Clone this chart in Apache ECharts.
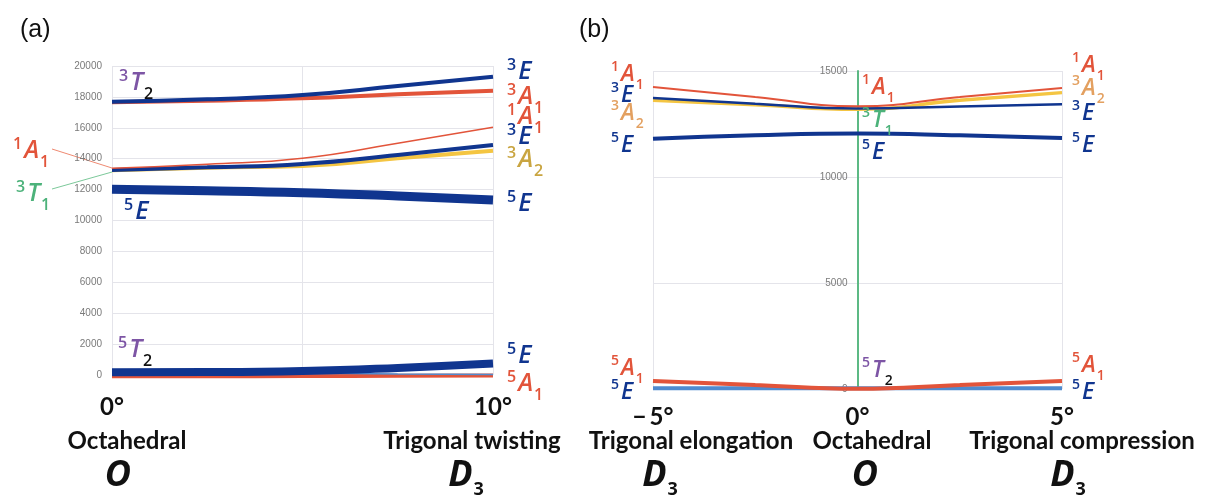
<!DOCTYPE html>
<html>
<head>
<meta charset="utf-8">
<script src="https://cdn.jsdelivr.net/npm/echarts@6/dist/echarts.min.js"></script>
<style>
  html, body { margin: 0; padding: 0; background: #fff; }
  #chart { width: 1206px; height: 500px; }
</style>
</head>
<body>
<div id="chart"></div>
<script>
// (a) trigonal twisting, 0..10 deg
var xA = [0, 2.5, 5, 7.5, 10]
var a3E_hi = [17690, 17840, 18120, 18700, 19300]
var a3A1 = [17650, 17750, 17910, 18170, 18400]
var a1A1 = [13380, 13640, 14030, 15000, 16030]
var a3E_mid = [13270, 13440, 13660, 14240, 14890]
var a3A2 = [13250, 13420, 13530, 14030, 14520]
var a5E_hi = [12020, 11930, 11800, 11590, 11330]
var a5E_lo = [180, 190, 260, 460, 740]
var a5A1 = [-80, -80, -70, -50, -30]
var a5E_thin = [90, 90, 100, 70, 40]

// (b) trigonal elongation / compression, -5..5 deg
var xB = [-5, -2.5, 0, 2.5, 5]
var b1A1 = [14245, 13770, 13335, 13770, 14200]
var b3E = [13730, 13460, 13230, 13330, 13430]
var b3A2 = [13620, 13410, 13200, 13620, 13980]
var b5E_hi = [11810, 11970, 12050, 11970, 11840]
var b5A1 = [380, 190, 10, 190, 380]
var b5E_lo = [40, 40, 40, 40, 40]

var NAVY = '#10358f'
var RED = '#e2543a'
var YELLOW = '#f4c542'
var GOLD = '#c9a541'
var ORANGE = '#e3a060'
var GREEN = '#4cb27a'
var PURPLE = '#7d55a5'
var LIGHTBLUE = '#4f8bcf'
var FONT = 'Open Sans'
var BFONT = 'Lato'

function pts(xs, ys) {
  return xs.map(function(x, i) { return [x, ys[i]] })
}

function line(grid, xs, ys, color, width) {
  return {
    type: 'line',
    xAxisIndex: grid,
    yAxisIndex: grid,
    data: pts(xs, ys),
    smooth: true,
    symbol: 'none',
    silent: true,
    clip: false,
    lineStyle: { color: color, width: width }
  }
}

// term symbol like ^3A_1
function term(x, y, sup, main, sub, col, subCol, size) {
  size = size || 25
  var s = Math.round(size * 0.62)
  var text = '{s|' + sup + '}{m|' + main + '}' + (sub ? '{b|' + sub + '}' : '')
  return {
    type: 'text',
    x: x,
    y: y,
    z: 100,
    style: {
      text: text,
      align: 'left',
      verticalAlign: 'middle',
      rich: {
        s: { fill: col, fontSize: s, fontFamily: FONT, fontWeight: 600, lineHeight: s, verticalAlign: 'top', padding: [0, 2, 0, 0] },
        m: { fill: col, fontSize: size, fontStyle: 'italic', fontWeight: 600, fontFamily: FONT, lineHeight: size * 1.2 },
        b: { fill: subCol || col, fontSize: s, fontFamily: FONT, fontWeight: 600, lineHeight: s, verticalAlign: 'bottom', padding: [0, 0, -4, 1] }
      }
    }
  }
}

function plain(x, y, str, size) {
  return {
    type: 'text',
    x: x,
    y: y,
    z: 100,
    style: {
      text: str,
      align: 'center',
      verticalAlign: 'middle',
      fill: '#111',
      fontSize: size,
      fontFamily: BFONT,
      fontWeight: 'bold'
    }
  }
}

function group(x, y, main, sub) {
  return {
    type: 'text',
    x: x,
    y: y,
    z: 100,
    style: {
      text: '{m|' + main + '}' + (sub ? '{b|' + sub + '}' : ''),
      align: 'center',
      verticalAlign: 'middle',
      rich: {
        m: { fill: '#111', fontSize: 36, fontStyle: 'italic', fontWeight: 'bold', fontFamily: FONT, lineHeight: 40 },
        b: { fill: '#111', fontSize: 18, fontWeight: 'bold', fontFamily: FONT, lineHeight: 18, verticalAlign: 'bottom', padding: [0, 0, -3, 1] }
      }
    }
  }
}

var gridLine = { show: true, lineStyle: { color: '#e4e4ea', width: 1 } }
var degLabel = { fontSize: 24, fontFamily: BFONT, fontWeight: 'bold', color: '#111' }

var chart = echarts.init(document.getElementById('chart'))
chart.setOption({
  backgroundColor: '#fff',
  animation: false,
  grid: [
    { left: 112, top: 66, width: 381, height: 309 },
    { left: 653, top: 71, width: 409, height: 318 }
  ],
  xAxis: [{
    type: 'value',
    gridIndex: 0,
    min: 0,
    max: 10,
    interval: 5,
    axisLine: { show: false },
    axisTick: { show: false },
    splitLine: gridLine,
    axisLabel: Object.assign({
      margin: 20,
      formatter: function(v) { return v === 5 ? '' : v + '°' }
    }, degLabel)
  }, {
    type: 'value',
    gridIndex: 1,
    min: -5,
    max: 5,
    interval: 5,
    axisLine: { show: false },
    axisTick: { show: false },
    splitLine: gridLine,
    axisLabel: Object.assign({
      margin: 16,
      formatter: function(v) { return v < 0 ? '\u2212\u2009' + Math.abs(v) + '°' : v + '°' }
    }, degLabel)
  }],
  yAxis: [{
    type: 'value',
    gridIndex: 0,
    min: 0,
    max: 20000,
    interval: 2000,
    axisLine: { show: false },
    axisTick: { show: false },
    splitLine: gridLine,
    axisLabel: { margin: 10, fontSize: 10, color: '#7a7a7a', fontFamily: 'Liberation Sans', formatter: String }
  }, {
    type: 'value',
    gridIndex: 1,
    min: 0,
    max: 15000,
    interval: 5000,
    offset: -204.5,
    axisLine: { show: true, onZero: false, lineStyle: { color: '#5cb984', width: 2 } },
    axisTick: { show: false },
    splitLine: gridLine,
    axisLabel: { margin: 10, fontSize: 10, color: '#7a7a7a', fontFamily: 'Liberation Sans', formatter: String }
  }],
  series: [
    line(0, xA, a3A1, RED, 4),
    line(0, xA, a3E_hi, NAVY, 4),
    line(0, xA, a3A2, YELLOW, 4),
    line(0, xA, a3E_mid, NAVY, 4),
    line(0, xA, a1A1, RED, 1.5),
    line(0, xA, a5E_hi, NAVY, 9),
    line(0, xA, a5A1, RED, 4),
    line(0, xA, a5E_thin, LIGHTBLUE, 1.5),
    line(0, xA, a5E_lo, NAVY, 8),

    line(1, xB, b5E_lo, LIGHTBLUE, 4),
    line(1, xB, b5A1, RED, 4),
    line(1, xB, b3A2, YELLOW, 3.5),
    line(1, xB, b3E, NAVY, 2.5),
    line(1, xB, b1A1, RED, 2),
    line(1, xB, b5E_hi, NAVY, 4)
  ],
  graphic: [
    { type: 'text', x: 20, y: 30, style: { text: '(a)', fontSize: 25, fontFamily: 'Liberation Sans', fill: '#111', verticalAlign: 'middle' } },
    { type: 'text', x: 579, y: 30, style: { text: '(b)', fontSize: 25, fontFamily: 'Liberation Sans', fill: '#111', verticalAlign: 'middle' } },

    // leader lines for the left-hand labels of (a)
    { type: 'line', shape: { x1: 52, y1: 149, x2: 112, y2: 168 }, style: { stroke: '#ef8a72', lineWidth: 1 } },
    { type: 'line', shape: { x1: 52, y1: 189, x2: 112, y2: 172 }, style: { stroke: '#7cc99a', lineWidth: 1 } },

    // (a) labels
    term(13, 151, '1', 'A', '1', RED),
    term(16, 194, '3', 'T', '1', GREEN),
    term(119, 83, '3', 'T', '2', PURPLE, '#111'),
    term(124, 212, '5', 'E', '', NAVY),
    term(118, 350, '5', 'T', '2', PURPLE, '#111'),
    term(507, 72, '3', 'E', '', NAVY),
    term(507, 97, '3', 'A', '1', RED),
    term(507, 117, '1', 'A', '1', RED),
    term(507, 137, '3', 'E', '', NAVY),
    term(507, 160, '3', 'A', '2', GOLD),
    term(507, 204, '5', 'E', '', NAVY),
    term(507, 356, '5', 'E', '', NAVY),
    term(507, 384, '5', 'A', '1', RED),

    // (b) labels
    term(611, 74, '1', 'A', '1', RED, null, 23),
    term(611, 95, '3', 'E', '', NAVY, null, 23),
    term(611, 113, '3', 'A', '2', ORANGE, null, 23),
    term(611, 145, '5', 'E', '', NAVY, null, 23),
    term(611, 368, '5', 'A', '1', RED, null, 23),
    term(611, 392, '5', 'E', '', NAVY, null, 23),
    term(862, 87, '1', 'A', '1', RED, null, 23),
    term(862, 120, '3', 'T', '1', GREEN, null, 23),
    term(862, 152, '5', 'E', '', NAVY, null, 23),
    term(862, 370, '5', 'T', '2', PURPLE, '#111', 23),
    term(1072, 65, '1', 'A', '1', RED, null, 23),
    term(1072, 88, '3', 'A', '2', ORANGE, null, 23),
    term(1072, 113, '3', 'E', '', NAVY, null, 23),
    term(1072, 145, '5', 'E', '', NAVY, null, 23),
    term(1072, 365, '5', 'A', '1', RED, null, 23),
    term(1072, 392, '5', 'E', '', NAVY, null, 23),

    // bottom descriptions
    plain(127, 441, 'Octahedral', 24),
    plain(472, 441, 'Trigonal twisting', 24),
    plain(691, 441, 'Trigonal elongation', 24),
    plain(872, 441, 'Octahedral', 24),
    plain(1082, 441, 'Trigonal compression', 24),
    group(118, 476, 'O', ''),
    group(466, 476, 'D', '3'),
    group(660, 476, 'D', '3'),
    group(865, 476, 'O', ''),
    group(1068, 476, 'D', '3')
  ]
})
</script>
</body>
</html>
